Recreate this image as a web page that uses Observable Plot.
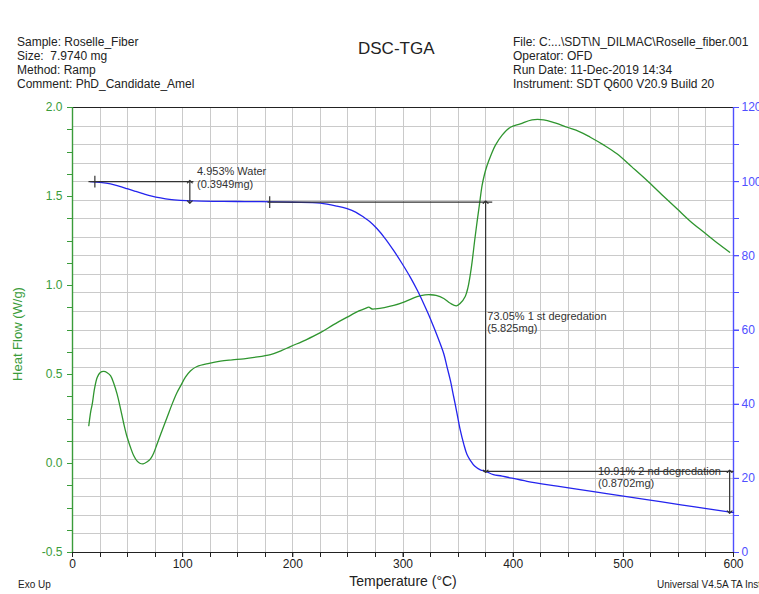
<!DOCTYPE html>
<html>
<head>
<meta charset="utf-8">
<script src="https://cdn.jsdelivr.net/npm/d3@7"></script>
<script src="https://cdn.jsdelivr.net/npm/@observablehq/plot@0.6"></script>
<style>
  html, body { margin: 0; padding: 0; background: #fff; overflow: hidden; }
  #wrap { position: relative; width: 759px; height: 594px; font-family: "Liberation Sans", Arial, sans-serif; color: #222; }
  .hdr { position: absolute; font-size: 12px; line-height: 14.2px; white-space: pre; }
  .ttl { position: absolute; font-size: 17px; line-height: 18px; white-space: pre; }
  .ftr { position: absolute; font-size: 10px; line-height: 12px; white-space: pre; }
  #chart { position: absolute; left: 0; top: 0; }
</style>
</head>
<body>
<div id="wrap">
  <div id="chart"></div>
  <div class="hdr" style="left:17px; top:34.5px;">Sample: Roselle_Fiber
Size:  7.9740 mg
Method: Ramp
Comment: PhD_Candidate_Amel</div>
  <div class="ttl" style="left:358px; top:40px;">DSC-TGA</div>
  <div class="hdr" style="left:513px; top:34.5px;">File: C:...\SDT\N_DILMAC\Roselle_fiber.001
Operator: OFD
Run Date: 11-Dec-2019 14:34
Instrument: SDT Q600 V20.9 Build 20</div>
  <div class="ftr" style="left:18px; top:579px;">Exo Up</div>
  <div class="ftr" style="left:657px; top:579px;">Universal V4.5A TA Instruments</div>
</div>
<script>
// ---- DSC heat flow (left axis, W/g) ----
const heatT = [14.8,16.5,17.9,20,22.4,25,28.4,31.5,34.5,37.5,40.5,43.5,46.6,49.5,52.6,55.5,58.7,61.5,64.1,67.5,70.8,73.8,76.8,81,85.9,90.5,95,98.5,102.5,107,113,124,134.3,145,155.5,165,179.7,190,197.8,212,225,237,249.3,260,266,268.9,272,275,283,291.6,302,312.8,320,324.9,330,337,343,348.5,352,356.6,359,361.2,362.7,365,367.2,369.5,371.8,374,376.3,380,383.8,390,397.5,406.5,417.1,427.7,438,448.9,460,470,482,494.2,508,521.5,535,548.7,561,572.9,585,596.5];
const heatFlow = [0.213,0.29,0.333,0.42,0.483,0.51,0.517,0.51,0.493,0.45,0.39,0.31,0.222,0.15,0.091,0.045,0.013,0.0,-0.002,0.008,0.026,0.06,0.11,0.18,0.26,0.335,0.4,0.44,0.485,0.52,0.545,0.563,0.575,0.582,0.588,0.596,0.612,0.635,0.657,0.695,0.735,0.78,0.822,0.857,0.872,0.878,0.868,0.869,0.876,0.888,0.91,0.938,0.947,0.948,0.944,0.927,0.9,0.886,0.9,0.94,0.99,1.066,1.131,1.25,1.356,1.46,1.562,1.625,1.674,1.735,1.787,1.845,1.889,1.908,1.931,1.931,1.913,1.889,1.865,1.833,1.79,1.74,1.665,1.59,1.51,1.431,1.36,1.3,1.24,1.187];

// ---- TGA weight (right axis, %) ----
const weightT = [16.3,25,34.5,42,49.6,57,64.7,72,79.9,88,98,110,130,150,170.6,200,225,240,249.3,257,264.4,270,276.5,284,291.6,299,306.7,313,318.8,323.5,327.9,332.5,337,340,343,346,349.1,352,355.1,358,361.2,365,370.2,375,382,390,412.6,440,473,500,533.6,565,597,600];
const weightPct = [100.0,99.8,99.4,98.8,98.1,97.4,96.7,96.1,95.6,95.2,94.95,94.8,94.7,94.65,94.6,94.45,94.2,93.4,92.7,91.8,90.4,89.2,87.3,84.6,81.4,78.0,74.2,70.7,67.1,64.0,60.8,57.3,53.6,50.0,46.4,42.0,37.4,33.0,29.3,26.5,24.8,23.3,22.3,21.9,21.0,20.6,19.2,17.9,16.4,15.2,13.7,12.3,10.9,10.8];

// ---- ticks ----
const tempTicks = [0,100,200,300,400,500,600];
const tempMinor = [0,25,50,75,100,125,150,175,200,225,250,275,300,325,350,375,400,425,450,475,500,525,550,575,600];
const heatTicks = [-0.5,0.0,0.5,1.0,1.5,2.0];
const heatMinor = [-0.5,-0.375,-0.25,-0.125,0,0.125,0.25,0.375,0.5,0.625,0.75,0.875,1,1.125,1.25,1.375,1.5,1.625,1.75,1.875,2];
const weightTicks = [0,20,40,60,80,100,120];
const weightMinor = [0,10,20,30,40,50,60,70,80,90,100,110,120];
const weightGrid = [0,5,10,15,20,25,30,35,40,45,50,55,60,65,70,75,80,85,90,95,100,105,110,115,120];

// ---- annotations (temperature °C, weight %) ----
const stepLines = [
  {x1: 14.5, x2: 109.8, w: 100.0},
  {x1: 177, x2: 381, w: 94.5},
  {x1: 373, x2: 600, w: 21.9}
];
const stepTicks = [{T: 20.3, w: 100.0}, {T: 179, w: 94.5}];
const stepArrows = [
  {T: 106.5, w1: 100.0, w2: 94.5},
  {T: 375, w1: 94.5, w2: 21.9},
  {T: 596.5, w1: 21.9, w2: 10.9}
];
const stepNotes = [
  {T: 113, w: 104, label: "4.953% Water\n(0.3949mg)"},
  {T: 376.5, w: 65, label: "73.05% 1 st degredation\n(5.825mg)"},
  {T: 477, w: 23.2, label: "10.91% 2 nd degredation\n(0.8702mg)"}
];

const GREEN = "#2f952f", GREEN_TXT = "#3a9c3a";
const BLUE = "#2424ee", BLUE_AX = "#4f4fff";
const INK = "#333";
const GRID = "#cacaca";

// weight % (0..120) mapped onto the heat-flow scale (-0.5..2.0)
const toY = w => w / 48 - 0.5;

const heat = heatT.map((t, i) => ({T: t, v: heatFlow[i]}));
const weight = weightT.map((t, i) => ({T: t, w: weightPct[i]}));

const chart = Plot.plot({
  width: 759,
  height: 594,
  marginTop: 107,
  marginBottom: 42,
  marginLeft: 72,
  marginRight: 26,
  x: {domain: [0, 600], label: null},
  y: {domain: [-0.5, 2.0], label: null},
  style: {fontFamily: "Liberation Sans, Arial, sans-serif", fontSize: "12px", background: "transparent", overflow: "visible"},
  marks: [
    Plot.ruleX(tempMinor, {stroke: GRID, strokeWidth: 1, shapeRendering: "crispEdges"}),
    Plot.ruleY(weightGrid, {y: toY, stroke: GRID, strokeWidth: 1, shapeRendering: "crispEdges"}),
    // frame
    Plot.ruleY([2.0], {stroke: "#222", strokeWidth: 1.2}),
    Plot.ruleY([-0.5], {stroke: "#222", strokeWidth: 1.2}),
    Plot.ruleX([0], {stroke: GREEN_TXT, strokeWidth: 1.4}),
    Plot.ruleX([600], {stroke: BLUE_AX, strokeWidth: 1.4}),
    // axes
    Plot.axisX({ticks: tempTicks, tickSize: 5, tickPadding: 2, color: "#222", fontSize: 12, label: null}),
    Plot.axisX({ticks: tempMinor, tickSize: 5, tickFormat: () => "", color: "#222", label: null, shapeRendering: "crispEdges"}),
    Plot.axisY({anchor: "left", ticks: heatTicks, tickSize: 5, tickPadding: 5, tickFormat: d => d.toFixed(1), color: GREEN_TXT, fontSize: 12, label: null}),
    Plot.axisY({anchor: "left", ticks: heatMinor, tickSize: 5, tickFormat: () => "", color: GREEN_TXT, label: null, shapeRendering: "crispEdges"}),
    Plot.axisY({anchor: "right", ticks: weightTicks.map(toY), tickSize: 5, tickPadding: 3, tickFormat: d => String(Math.round((d + 0.5) * 48)), color: BLUE_AX, fontSize: 12, label: null}),
    Plot.axisY({anchor: "right", ticks: weightMinor.map(toY), tickSize: 5, tickFormat: () => "", color: BLUE_AX, label: null, shapeRendering: "crispEdges"}),
    // axis titles
    Plot.text(["Heat Flow (W/g)"], {frameAnchor: "left", dx: -55, dy: 4, rotate: -90, textAnchor: "middle", fill: GREEN_TXT, fontSize: 13}),
    Plot.text(["Temperature (°C)"], {frameAnchor: "bottom", dy: 33, textAnchor: "middle", fill: "#222", fontSize: 14}),
    // curves
    Plot.line(heat, {x: "T", y: "v", stroke: GREEN, strokeWidth: 1.3, curve: "catmull-rom"}),
    Plot.line(weight, {x: "T", y: d => toY(d.w), stroke: BLUE, strokeWidth: 1.3, curve: "catmull-rom"}),
    // annotations
    Plot.link(stepLines, {x1: "x1", x2: "x2", y1: d => toY(d.w), y2: d => toY(d.w), stroke: INK, strokeWidth: 1.2}),
    Plot.link(stepTicks, {x1: "T", x2: "T", y1: d => toY(d.w + 1.6), y2: d => toY(d.w - 1.6), stroke: INK, strokeWidth: 1.2}),
    Plot.link(stepArrows, {x1: "T", x2: "T", y1: d => toY(d.w1), y2: d => toY(d.w2), stroke: INK, strokeWidth: 1.2, markerStart: "arrow-reverse", markerEnd: "arrow"}),
    Plot.text(stepNotes, {x: "T", y: d => toY(d.w), text: "label", textAnchor: "start", lineAnchor: "top", lineHeight: 1.1, fontSize: 11, fill: INK})
  ]
});
document.getElementById("chart").appendChild(chart);
</script>
</body>
</html>
